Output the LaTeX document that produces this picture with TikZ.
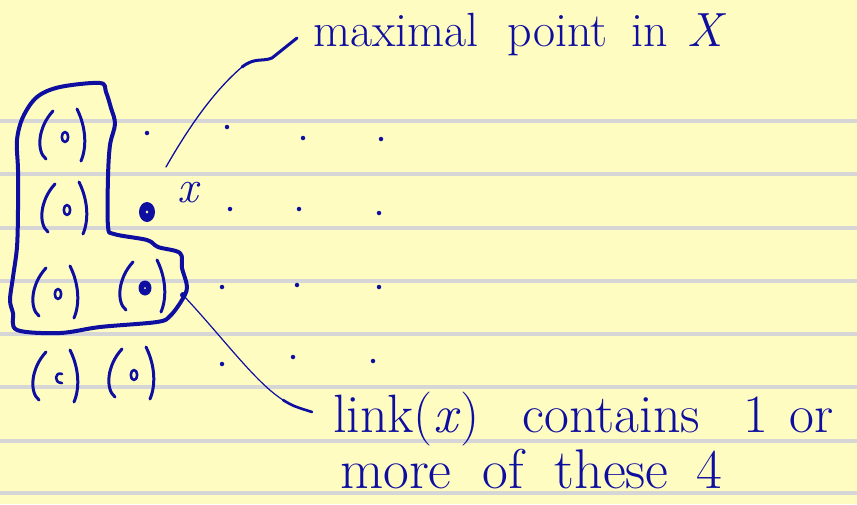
\documentclass[tikz,border=0pt]{standalone}
\usepackage{fontspec}
\definecolor{paper}{RGB}{255,252,193}
\definecolor{rulegray}{RGB}{214,214,214}
\definecolor{inkblue}{RGB}{14,14,160}
\tikzset{
  ink/.style={draw=inkblue,line cap=round,line join=round},
  rule/.style={draw=rulegray,line width=3.5pt},
  dotn/.style={circle,fill=inkblue,inner sep=0pt,minimum size=4.5pt},
  hand/.style={text=inkblue,inner sep=0pt},
  elem/.pic={
    \draw[ink,line width=3pt] (-12,-26) .. controls (-27,-10) and (-29,14) .. (-19,22);
    \draw[ink,line width=3pt] (12,-28) .. controls (21,-10) and (22,10) .. (16,24);
    \draw[ink,line width=2.6pt] (0,0) ellipse [x radius=3.2, y radius=5];
  },
  elemc/.pic={
    \draw[ink,line width=3pt] (-12,-26) .. controls (-27,-10) and (-29,14) .. (-19,22);
    \draw[ink,line width=3pt] (12,-28) .. controls (21,-10) and (22,10) .. (16,24);
    \draw[ink,line width=2.6pt] (4,-4) .. controls (-3,-7) and (-5,5) .. (4,5);
  },
  elemb/.pic={
    \draw[ink,line width=3pt] (-12,-26) .. controls (-27,-10) and (-29,14) .. (-19,22);
    \draw[ink,line width=3pt] (12,-28) .. controls (21,-10) and (22,10) .. (16,24);
    \fill[inkblue] (0,0) ellipse [x radius=6.5, y radius=7.5];
    \fill[paper] (0,0) circle [radius=1];
  }
}
\begin{document}
\begin{tikzpicture}[x=1pt,y=-1pt]
\fill[paper] (0,0) rectangle (857,504);
\useasboundingbox (0,0) rectangle (857,504);
\foreach \yy in {121,174,228,281,334,387,441,493} \draw[rule] (0,\yy) -- (857,\yy);

% elements in parentheses
\pic (e11) at (65,137) {elem};
\pic (e21) at (67,210) {elem};
\pic (e31) at (58,294) {elem};
\pic (e32) at (145,288) {elemb};
\pic (e41) at (58,378) {elemc};
\pic (e42) at (134,375) {elem};

% dots
\node[dotn] (d12) at (147,133) {};
\node[dotn] (d13) at (227,127) {};
\node[dotn] (d14) at (303,138) {};
\node[dotn] (d15) at (381,139) {};
\node[dotn] (d23) at (230,209) {};
\node[dotn] (d24) at (299,209) {};
\node[dotn] (d25) at (379,213) {};
\node[dotn] (d33) at (222,287) {};
\node[dotn] (d34) at (297,285) {};
\node[dotn] (d35) at (379,287) {};
\node[dotn] (d43) at (222,364) {};
\node[dotn] (d44) at (293,357) {};
\node[dotn] (d45) at (373,361) {};

% maximal point x
\coordinate (xpt) at (147,212);
\fill[inkblue] (xpt) ellipse [x radius=8, y radius=10];
\fill[paper] (xpt) ellipse [x radius=1.3, y radius=1.6];
\node[hand,font=\fontsize{46}{50}\selectfont\itshape] (xlab) at (188,193) {x};

% outline of the link
\draw[ink,line width=4pt] plot[smooth cycle,tension=0.55] coordinates {
 (100,83) (106,92) (111,108) (115,124) (110,145) (108,177) (108,226) (114,234)
 (147,240) (158,247) (180,253) (182,268) (187,287) (182,300) (170,316) (157,322)
 (100,327) (60,333) (17,330) (13,313) (10,300) (13,277) (17,247) (18,210)
 (18,170) (17,140) (23,117) (37,97) (60,87)};

% labels
\node[hand,font=\fontsize{48}{52}\selectfont,anchor=base west] (maxlab) at (313,46) {maximal\hspace{0.3em} point\hspace{0.2em} in\hspace{0.1em} \textit{X}};
\node[hand,font=\fontsize{54}{60}\selectfont,anchor=base west] (linklab) at (333,432) {link(\textit{x})\hspace{0.5em} contains\hspace{0.5em} 1\hspace{0.1em} or};
\node[hand,font=\fontsize{56}{60}\selectfont,anchor=base west] (morelab) at (340,488) {more\hspace{0.25em} of\hspace{0.25em} these\hspace{0.2em} 4};

% leaders
\coordinate (topend) at (166,167);
\coordinate (topmid) at (242,67);
\coordinate (topstart) at (297,38);
\draw[ink,line width=1.3pt] (topend) .. controls (190,125) and (215,90) .. (topmid);
\draw[ink,line width=3pt] (topmid) .. controls (255,57) and (262,62) .. (272,58) -- (topstart);

\coordinate (botstart) at (183,295);
\coordinate (botmid) at (283,400);
\coordinate (botend) at (312,412);
\fill[inkblue] (botstart) circle [radius=3];
\draw[ink,line width=1.2pt] (botstart) .. controls (225,340) and (255,382) .. (botmid);
\draw[ink,line width=2.6pt] (botmid) .. controls (293,406) .. (botend);
\end{tikzpicture}
\end{document}
